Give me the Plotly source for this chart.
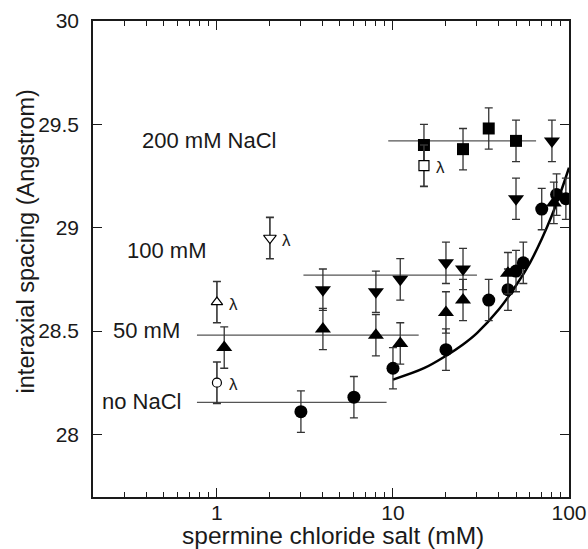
import plotly.graph_objects as go
import math

# ---------------- data ----------------
# filled circles: no NaCl
no_nacl_x = [3, 6, 10, 20, 35, 45, 50, 55, 70, 85, 96]
no_nacl_y = [28.11, 28.18, 28.32, 28.41, 28.65, 28.70, 28.79, 28.83, 29.09, 29.16, 29.14]
# filled up-triangles: 50 mM NaCl
nacl50_x = [1.1, 4, 8, 11, 20, 25, 45, 82]
nacl50_y = [28.42, 28.51, 28.48, 28.44, 28.59, 28.65, 28.78, 29.12]
# filled down-triangles: 100 mM NaCl
nacl100_x = [4, 8, 11, 20, 25, 50, 80]
nacl100_y = [28.70, 28.69, 28.75, 28.83, 28.80, 29.14, 29.42]
# filled squares: 200 mM NaCl
nacl200_x = [15, 25, 35, 50]
nacl200_y = [29.40, 29.38, 29.48, 29.42]
# open symbols: lambda DNA
lam_circle = (1.0, 28.25)
lam_up = (1.0, 28.64)
lam_down = (2.0, 28.95)
lam_square = (15.0, 29.30)
err = 0.1

# horizontal reference levels
ref_levels = {
    "200": ([9.4, 65], 29.42),
    "100": ([3.1, 30], 28.77),
    "50": ([0.77, 14], 28.48),
    "0": ([0.77, 9.2], 28.155),
}

# fitted curve
fit_x = [10, 15, 20, 25, 30, 40, 50, 60, 70, 80, 90, 100]
fit_y = [28.265, 28.32, 28.38, 28.435, 28.49, 28.605, 28.72, 28.83, 28.945, 29.06, 29.175, 29.29]

x_ticks = [1, 10, 100]
x_minor = [0.3, 0.4, 0.5, 0.6, 0.7, 0.8, 0.9, 2, 3, 4, 5, 6, 7, 8, 9,
           20, 30, 40, 50, 60, 70, 80, 90]
y_ticks = [28, 28.5, 29, 29.5, 30]

FONT = "Liberation Sans, Arial, sans-serif"
INK = "#1a1a1a"
ERRC = "#333333"

fig = go.Figure()

# reference lines
for key, (xs, yv) in ref_levels.items():
    fig.add_trace(go.Scatter(x=xs, y=[yv, yv], mode="lines",
                             line=dict(color="#555555", width=1.2),
                             showlegend=False, hoverinfo="skip"))

# fit curve
fig.add_trace(go.Scatter(x=fit_x, y=fit_y, mode="lines", line_shape="spline",
                         line=dict(color="black", width=2.5), showlegend=False))

def add_series(xs, ys, symbol, size):
    fig.add_trace(go.Scatter(x=xs, y=ys, mode="markers",
                             marker=dict(symbol=symbol, size=size, color="black",
                                         line=dict(width=0)),
                             error_y=dict(type="constant", value=err, color=ERRC,
                                          thickness=1.3, width=4),
                             showlegend=False))

add_series(no_nacl_x, no_nacl_y, "circle", 13)
add_series(nacl50_x, nacl50_y, "triangle-up", 14)
add_series(nacl100_x, nacl100_y, "triangle-down", 14)
add_series(nacl200_x, nacl200_y, "square", 12)

for (px, py), sym, sz in [(lam_circle, "circle", 9), (lam_up, "triangle-up", 10),
                          (lam_down, "triangle-down", 11), (lam_square, "square", 10)]:
    fig.add_trace(go.Scatter(x=[px], y=[py], mode="markers",
                             marker=dict(symbol=sym, size=sz, color="white",
                                         line=dict(width=1.2, color="black")),
                             error_y=dict(type="constant", value=err, color=ERRC,
                                          thickness=1.6, width=4),
                             showlegend=False))
    fig.add_annotation(x=math.log10(px), y=py, text="λ", showarrow=False,
                       xshift=17, yshift=-2, font=dict(family=FONT, size=17, color=INK))

# salt labels and axis titles (pixel positions converted to paper coords)
L, T, W, H = 92.7, 21.1, 476.3, 475.6
def px2paper(cx, cy):
    return (cx - L) / W, 1 - (cy - T) / H

labels = [("200 mM NaCl", 209, 140), ("100 mM", 166, 250), ("50 mM", 146.5, 330),
          ("no NaCl", 141, 401.7)]
for txt, cx, cy in labels:
    ax, ay = px2paper(cx, cy)
    fig.add_annotation(x=ax, y=ay, xref="paper", yref="paper",
                       text=txt, showarrow=False, xanchor="center", yanchor="middle",
                       font=dict(family=FONT, size=22, color=INK))

ax, ay = px2paper(332.5, 535)
fig.add_annotation(x=ax, y=ay, xref="paper", yref="paper", text="spermine chloride salt (mM)",
                   showarrow=False, xanchor="center", yanchor="middle",
                   font=dict(family=FONT, size=24.5, color=INK))
ax, ay = px2paper(26, 241)
fig.add_annotation(x=ax, y=ay, xref="paper", yref="paper", text="interaxial spacing (Angstrom)",
                   showarrow=False, xanchor="center", yanchor="middle", textangle=-90,
                   font=dict(family=FONT, size=23.5, color=INK))

axis_common = dict(showline=True, linecolor=INK, linewidth=1.5, mirror="ticks",
                   ticks="inside", tickcolor=INK, tickwidth=1.3, ticklen=9,
                   showgrid=False, zeroline=False, automargin=False,
                   tickfont=dict(family=FONT, size=21, color=INK))

fig.update_xaxes(type="log", range=[-0.704, 2], tickvals=x_ticks,
                 ticktext=[str(v) for v in x_ticks],
                 minor=dict(ticks="inside", ticklen=5, tickcolor=INK, tickwidth=1.2,
                            tickvals=x_minor, showgrid=False),
                 ticklabelstandoff=-4,
                 **axis_common)
fig.update_yaxes(range=[27.697, 30], tickvals=y_ticks,
                 ticktext=["28", "28.5", "29", "29.5", "30"],
                 ticklabelstandoff=8,
                 **axis_common)

fig.update_layout(width=588, height=549, margin=dict(l=93, r=19, t=21, b=52),
                  plot_bgcolor="white", paper_bgcolor="white", showlegend=False)

fig.write_html("out.html", config={"displayModeBar": False},
               post_script="document.body.style.margin='0px';")
